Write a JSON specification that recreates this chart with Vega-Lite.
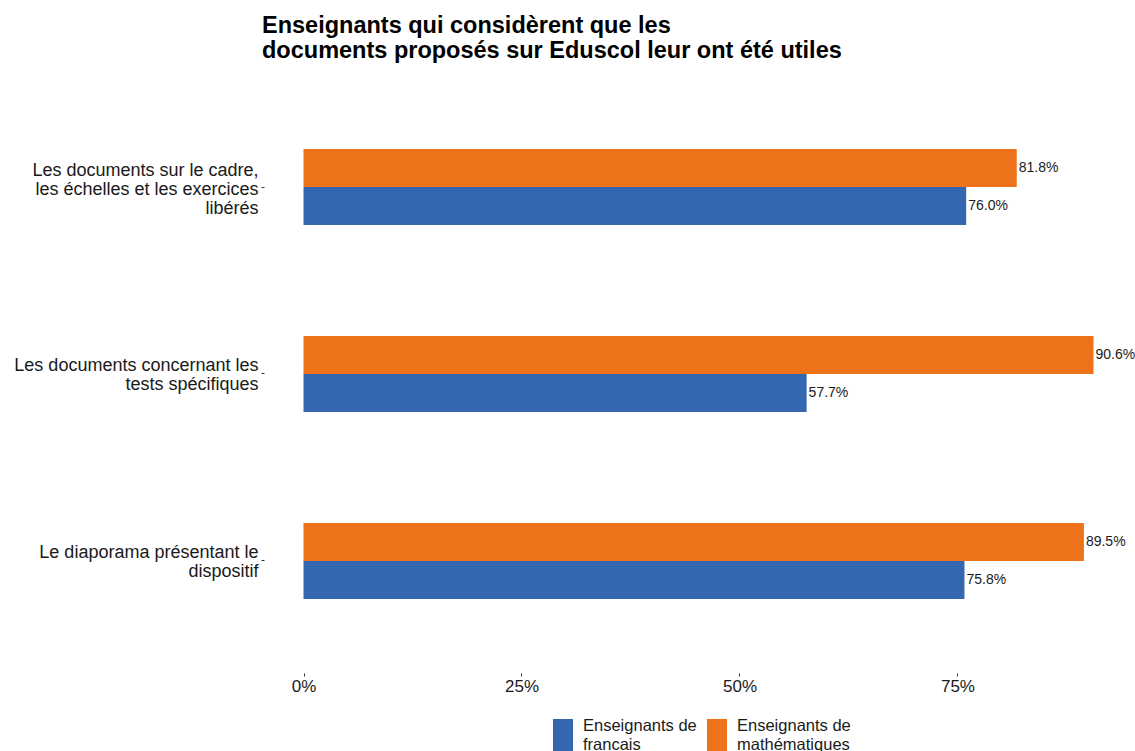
{
  "$schema": "https://vega.github.io/schema/vega-lite/v6.json",
  "autosize": {"type": "none"},
  "padding": {"left": 264, "top": 75, "right": 2, "bottom": 78},
  "width": 869,
  "height": 598,
  "background": "white",
  "title": {
    "text": ["Enseignants qui considèrent que les", "documents proposés sur Eduscol leur ont été utiles"],
    "anchor": "start",
    "frame": "group",
    "font": "Liberation Sans",
    "fontSize": 23.5,
    "fontWeight": "bold",
    "lineHeight": 25,
    "color": "black",
    "offset": 13,
    "dx": -2
  },
  "config": {
    "view": {"stroke": null},
    "font": "Liberation Sans"
  },
  "data": {
    "values": [
      {"item": "Les documents sur le cadre,|les échelles et les exercices|libérés", "groupe": "Enseignants de|mathématiques", "valeur": 0.818},
      {"item": "Les documents sur le cadre,|les échelles et les exercices|libérés", "groupe": "Enseignants de|francais", "valeur": 0.760},
      {"item": "Les documents concernant les|tests spécifiques", "groupe": "Enseignants de|mathématiques", "valeur": 0.906},
      {"item": "Les documents concernant les|tests spécifiques", "groupe": "Enseignants de|francais", "valeur": 0.577},
      {"item": "Le diaporama présentant le|dispositif", "groupe": "Enseignants de|mathématiques", "valeur": 0.895},
      {"item": "Le diaporama présentant le|dispositif", "groupe": "Enseignants de|francais", "valeur": 0.758}
    ]
  },
  "encoding": {
    "y": {
      "field": "item",
      "type": "nominal",
      "sort": null,
      "scale": {"paddingInner": 0.594, "paddingOuter": 0.396},
      "axis": {
        "title": null,
        "domain": false,
        "grid": false,
        "ticks": true,
        "tickSize": 3,
        "tickColor": "#333333",
        "labelPadding": 3,
        "labelFontSize": 18,
        "labelColor": "#1a1a1a",
        "labelLineHeight": 19,
        "labelLimit": 400,
        "labelOffset": {"condition": {"test": "indexof(datum.value, 'libérés') >= 0", "value": -16}, "value": -8},
        "labelExpr": "split(datum.label, '|')",
        "labelFont": "Liberation Sans"
      }
    },
    "yOffset": {
      "field": "groupe",
      "type": "nominal",
      "sort": ["Enseignants de|mathématiques", "Enseignants de|francais"],
      "scale": {"paddingInner": 0, "paddingOuter": 0}
    },
    "x": {
      "field": "valeur",
      "type": "quantitative",
      "scale": {"domain": [-0.0453, 0.9513], "nice": false, "zero": false},
      "axis": {
        "title": null,
        "domain": false,
        "grid": false,
        "values": [0, 0.25, 0.5, 0.75],
        "format": ".0%",
        "tickSize": 3,
        "tickColor": "#333333",
        "labelPadding": 2,
        "labelFontSize": 17,
        "labelColor": "#1a1a1a",
        "labelFont": "Liberation Sans"
      }
    }
  },
  "layer": [
    {
      "mark": {"type": "bar"},
      "encoding": {
        "x2": {"datum": 0},
        "color": {
          "field": "groupe",
          "type": "nominal",
          "scale": {
            "domain": ["Enseignants de|francais", "Enseignants de|mathématiques"],
            "range": ["#3566B0", "#EE7219"]
          },
          "legend": {
            "title": null,
            "orient": "none",
            "legendX": 289,
            "legendY": 641,
            "direction": "horizontal",
            "columns": 2,
            "symbolType": "M-1,-0.7H1V3.5H-1Z",
            "symbolSize": 400,
            "symbolStrokeWidth": 0,
            "symbolOpacity": 1,
            "labelExpr": "split(datum.label, '|')",
            "labelFontSize": 16.5,
            "labelLineHeight": 15,
            "labelColor": "#1a1a1a",
            "labelFont": "Liberation Sans",
            "labelOffset": 10,
            "columnPadding": 10,
            "labelLimit": 300
          }
        }
      }
    },
    {
      "mark": {"type": "text", "align": "left", "baseline": "middle", "dx": 2, "fontSize": 14, "font": "Liberation Sans", "color": "#1a1a1a"},
      "encoding": {
        "text": {"field": "valeur", "type": "quantitative", "format": ".1%"}
      }
    }
  ]
}
